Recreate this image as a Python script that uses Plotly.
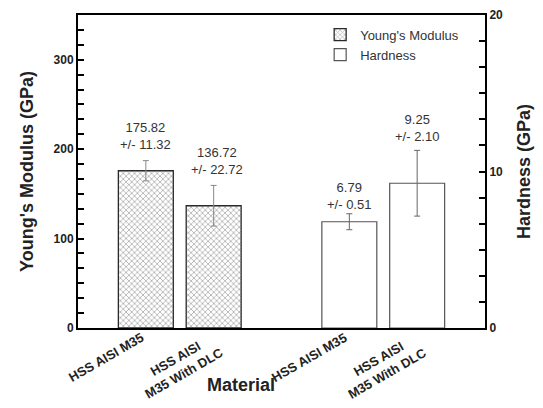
import plotly.graph_objects as go

materials = ["HSS AISI M35", "HSS AISI<br>M35 With DLC"]
modulus = [175.82, 136.72]
modulus_err = [11.32, 22.72]
hardness = [6.79, 9.25]
hardness_err = [0.51, 2.10]
modulus_pos = [1, 2]
hardness_pos = [4, 5]
modulus_ticks = [0, 100, 200, 300]
hardness_ticks = [0, 10, 20]

FONT = "Liberation Sans"

fig = go.Figure()
fig.add_trace(go.Bar(
    x=modulus_pos, y=modulus, name="Young's Modulus", width=0.81,
    marker=dict(color="white", line=dict(color="#2a2a2a", width=1.3),
                pattern=dict(shape="x", fgcolor="#555", bgcolor="white", size=4, solidity=0.35)),
    error_y=dict(type="data", array=modulus_err, color="#888", thickness=1, width=3),
    yaxis="y"))
fig.add_trace(go.Bar(
    x=hardness_pos, y=hardness, name="Hardness", width=0.81,
    marker=dict(color="white", line=dict(color="#555", width=1.2)),
    error_y=dict(type="data", array=hardness_err, color="#666", thickness=1, width=3),
    yaxis="y2"))

labels = [(1, 195, f"{modulus[0]:.2f}<br>+/- {modulus_err[0]:.2f}"),
          (2.05, 167, f"{modulus[1]:.2f}<br>+/- {modulus_err[1]:.2f}"),
          (4, 128, f"{hardness[0]:.2f}<br>+/- {hardness_err[0]:.2f}"),
          (5, 204, f"{hardness[1]:.2f}<br>+/- {hardness_err[1]:.2f}")]
for x, y, t in labels:
    fig.add_annotation(x=x, y=y, xref="x", yref="y", text=t, showarrow=False,
                       yanchor="bottom", font=dict(family=FONT, size=13, color="#333"))

# rotated category labels under the bars
for pos, name in zip(modulus_pos + hardness_pos, materials + materials):
    two_line = "<br>" in name
    fig.add_annotation(x=pos - (0.50 if two_line else 0.59), y=-0.121 if two_line else -0.093,
                       xref="x", yref="paper", xanchor="center", yanchor="middle",
                       text=f"<b>{name}</b>".replace("<br>", "</b><br><b>"), textangle=-30,
                       showarrow=False, font=dict(family=FONT, size=13, color="#222"))

fig.add_annotation(x=(241 - 78) / 407, y=(328 - 397) / 313, xref="paper", yref="paper",
                   text="<b>Material</b>", showarrow=False,
                   font=dict(family=FONT, size=18, color="#222"))

def tick_set(major, top):
    step = (major[1] - major[0]) / 6
    vals, texts = [], []
    i = 0
    while i * step <= top + 1e-9:
        vals.append(i * step)
        texts.append(f"<b>{major[i // 6]}</b>" if i % 6 == 0 and i // 6 < len(major) else "")
        i += 1
    return vals, texts

m_vals, m_text = tick_set(modulus_ticks, 340)
h_vals, h_text = tick_set(hardness_ticks, 20)

tick_font = dict(family=FONT, size=12, color="#222")
fig.update_layout(
    width=543, height=408, margin=dict(l=78, r=58, t=15, b=80),
    font=dict(family=FONT),
    plot_bgcolor="white", paper_bgcolor="white", barmode="overlay",
    showlegend=True,
    legend=dict(x=0.595, y=0.985, xanchor="left", yanchor="top", bgcolor="rgba(0,0,0,0)",
                font=dict(family=FONT, size=13, color="#333")),
    xaxis=dict(range=[0, 6], showticklabels=False, automargin=False,
               showline=True, linecolor="black", linewidth=2, mirror=True, ticks="",
               showgrid=False, zeroline=False),
    yaxis=dict(range=[0, 350], tickmode="array", tickvals=m_vals, ticktext=m_text,
               ticks="inside", ticklen=6, tickwidth=1.5, tickcolor="black",
               tickfont=tick_font, automargin=False,
               showline=True, linecolor="black", linewidth=2, showgrid=False, zeroline=False,
               title=dict(text="<b>Young's Modulus (GPa)</b>",
                          font=dict(family=FONT, size=18, color="#222"))),
    yaxis2=dict(range=[0, 20], overlaying="y", side="right", tickmode="array",
                tickvals=h_vals, ticktext=h_text,
                ticks="inside", ticklen=6, tickwidth=1.5, tickcolor="black",
                tickfont=tick_font, automargin=False,
                showline=True, linecolor="black", linewidth=2, showgrid=False, zeroline=False,
                title=dict(text="<b>Hardness (GPa)</b>",
                           font=dict(family=FONT, size=18, color="#222"))),
)
fig.write_html("out.html")
